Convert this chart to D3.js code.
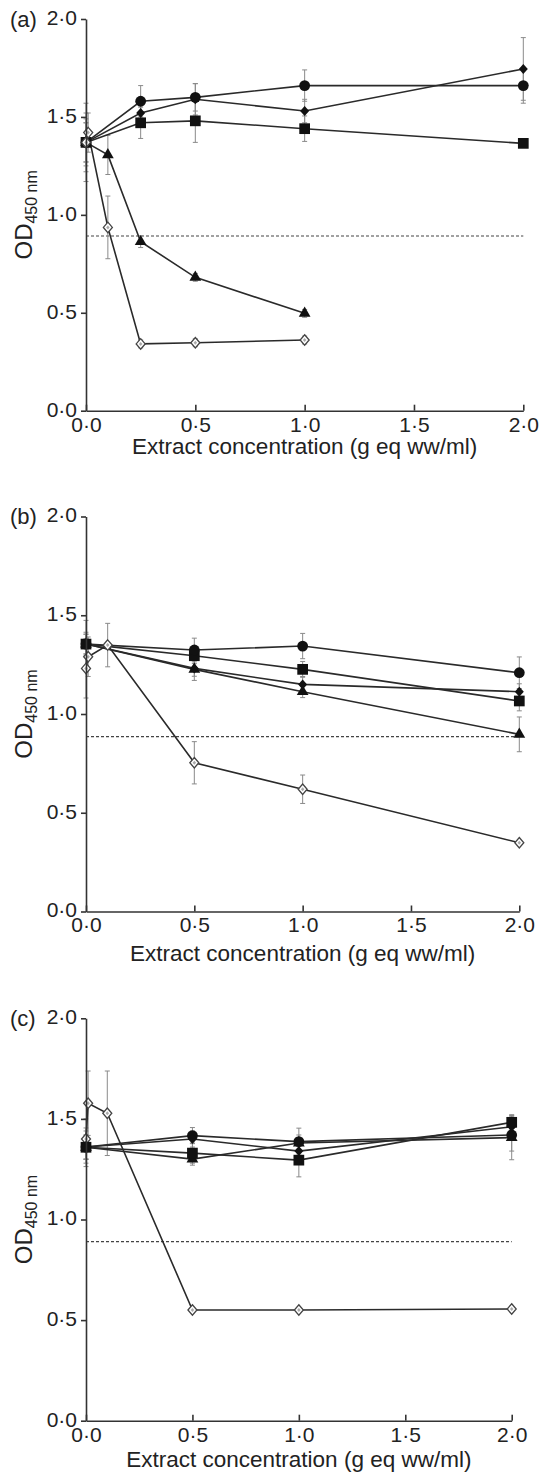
<!DOCTYPE html>
<html>
<head>
<meta charset="utf-8">
<script src="https://cdn.jsdelivr.net/npm/d3@7"></script>
<style>
  body { margin: 0; background: #fff; }
  text { font-family: 'Liberation Sans', Arial, sans-serif; fill: #222; }
</style>
</head>
<body>
<div id="chart"></div>
<script>
// shared ticks
let xTicks = [0, 0.5, 1, 1.5, 2]
let yTicks = [0, 0.5, 1, 1.5, 2]
let panelLabels = ['(a)', '(b)', '(c)']
let xTitle = 'Extract concentration (g eq ww/ml)'

// panel (a)
let xA = [0, 0.25, 0.5, 1, 2]
let circleA = [1.37, 1.58, 1.6, 1.66, 1.66]
let circleErrA = [0.2, 0.08, 0.07, 0.08, 0.09]
let diamondA = [1.37, 1.52, 1.59, 1.53, 1.745]
let diamondErrA = [0.12, 0.05, 0.08, 0.06, 0.16]
let squareA = [1.37, 1.47, 1.48, 1.44, 1.365]
let squareErrA = [0.1, 0.08, 0.11, 0.065, 0.02]
let xTriA = [0, 0.1, 0.25, 0.5, 1]
let triangleA = [1.37, 1.306, 0.863, 0.681, 0.497]
let triangleErrA = [0.1, 0.1, 0.03, 0.02, 0.02]
let xOpenA = [0, 0.01, 0.1, 0.25, 0.5, 1]
let openA = [1.37, 1.42, 0.936, 0.341, 0.347, 0.361]
let openErrA = [0.15, 0.1, 0.16, 0.02, 0.02, 0.02]
let cutoffA = 0.892

// panel (b)
let xB = [0, 0.5, 1, 2]
let circleB = [1.354, 1.324, 1.344, 1.209]
let circleErrB = [0.12, 0.06, 0.064, 0.08]
let diamondB = [1.354, 1.231, 1.15, 1.113]
let diamondErrB = [0.05, 0.04, 0.04, 0.04]
let squareB = [1.354, 1.295, 1.226, 1.066]
let squareErrB = [0.06, 0.04, 0.04, 0.05]
let triangleB = [1.354, 1.226, 1.113, 0.897]
let triangleErrB = [0.05, 0.056, 0.03, 0.088]
let xOpenB = [0, 0.01, 0.1, 0.5, 1, 2]
let openB = [1.231, 1.29, 1.349, 0.753, 0.619, 0.348]
let openErrB = [0.15, 0.1, 0.11, 0.107, 0.072, 0.01]
let cutoffB = 0.885

// panel (c)
let xC = [0, 0.5, 1, 2]
let circleC = [1.36, 1.417, 1.387, 1.42]
let circleErrC = [0.08, 0.04, 0.067, 0.08]
let diamondC = [1.36, 1.4, 1.34, 1.461]
let diamondErrC = [0.06, 0.04, 0.05, 0.06]
let squareC = [1.359, 1.33, 1.295, 1.483]
let squareErrC = [0.096, 0.05, 0.083, 0.03]
let triangleC = [1.359, 1.3, 1.38, 1.407]
let triangleErrC = [0.06, 0.03, 0.04, 0.11]
let xOpenC = [0, 0.01, 0.1, 0.5, 1, 2]
let openC = [1.4, 1.578, 1.528, 0.55, 0.55, 0.555]
let openErrC = [0.1, 0.16, 0.21, 0.01, 0.01, 0.01]
let cutoffC = 0.89

let zip = (xs, ys, es) => xs.map((x, i) => ({ x: x, y: ys[i], e: es[i] }))

let panels = [
  {
    label: panelLabels[0], cutoff: cutoffA,
    box: { left: 86, right: 523.3, bottom: 410.7, top: 19, title: 454 },
    series: [
      { shape: 'square', pts: zip(xA, squareA, squareErrA) },
      { shape: 'diamond', pts: zip(xA, diamondA, diamondErrA) },
      { shape: 'circle', pts: zip(xA, circleA, circleErrA) },
      { shape: 'triangle', pts: zip(xTriA, triangleA, triangleErrA) },
      { shape: 'open', pts: zip(xOpenA, openA, openErrA) }
    ]
  },
  {
    label: panelLabels[1], cutoff: cutoffB,
    box: { left: 86, right: 519.3, bottom: 911.5, top: 516.5, title: 961 },
    series: [
      { shape: 'open', pts: zip(xOpenB, openB, openErrB) },
      { shape: 'triangle', pts: zip(xB, triangleB, triangleErrB) },
      { shape: 'diamond', pts: zip(xB, diamondB, diamondErrB) },
      { shape: 'square', pts: zip(xB, squareB, squareErrB) },
      { shape: 'circle', pts: zip(xB, circleB, circleErrB) }
    ]
  },
  {
    label: panelLabels[2], cutoff: cutoffC,
    box: { left: 86, right: 511.7, bottom: 1420.7, top: 1018.3, title: 1467 },
    series: [
      { shape: 'open', pts: zip(xOpenC, openC, openErrC) },
      { shape: 'circle', pts: zip(xC, circleC, circleErrC) },
      { shape: 'diamond', pts: zip(xC, diamondC, diamondErrC) },
      { shape: 'triangle', pts: zip(xC, triangleC, triangleErrC) },
      { shape: 'square', pts: zip(xC, squareC, squareErrC) }
    ]
  }
]

let fmt = d => d.toFixed(1).replace('.', '\u00b7')

// diamond outline with its own width and height
let diamondPath = (w, h) =>
  'M0,' + (-h / 2) + 'L' + (w / 2) + ',0L0,' + (h / 2) + 'L' + (-w / 2) + ',0Z'

let width = 539
let height = 1477

let svg = d3
  .select('#chart')
  .append('svg')
  .attr('width', width)
  .attr('height', height)

panels.forEach(p => {
  let b = p.box
  let x = d3.scaleLinear().domain([0, 2]).range([b.left, b.right])
  let y = d3.scaleLinear().domain([0, 2]).range([b.bottom, b.top])

  let g = svg.append('g')

  // cut-off line
  g.append('line')
    .attr('x1', x(0))
    .attr('x2', x(2))
    .attr('y1', y(p.cutoff))
    .attr('y2', y(p.cutoff))
    .attr('stroke', '#444')
    .attr('stroke-width', 1.2)
    .attr('stroke-dasharray', '3,2')

  // error bars
  p.series.forEach(s => {
    let eb = g.append('g').selectAll('g')
      .data(s.pts.filter(d => d.e > 0.015))
      .enter()
      .append('g')
      .attr('stroke', '#8a8a8a')
      .attr('stroke-width', 1)
    eb.append('line')
      .attr('x1', d => x(d.x)).attr('x2', d => x(d.x))
      .attr('y1', d => y(d.y - d.e)).attr('y2', d => y(d.y + d.e))
    eb.append('line')
      .attr('x1', d => x(d.x) - 2.5).attr('x2', d => x(d.x) + 2.5)
      .attr('y1', d => y(d.y + d.e)).attr('y2', d => y(d.y + d.e))
    eb.append('line')
      .attr('x1', d => x(d.x) - 2.5).attr('x2', d => x(d.x) + 2.5)
      .attr('y1', d => y(d.y - d.e)).attr('y2', d => y(d.y - d.e))
  })

  // lines
  let line = d3.line().x(d => x(d.x)).y(d => y(d.y))
  p.series.forEach(s => {
    g.append('path')
      .datum(s.pts)
      .attr('d', line)
      .attr('fill', 'none')
      .attr('stroke', '#2a2a2a')
      .attr('stroke-width', 1.6)
  })

  // markers
  p.series.forEach(s => {
    let m = g.append('g').selectAll('g')
      .data(s.pts)
      .enter()
      .append('g')
      .attr('transform', d => 'translate(' + x(d.x) + ',' + y(d.y) + ')')
    if (s.shape === 'circle') {
      m.append('circle').attr('r', 5.4).attr('fill', '#111')
    } else if (s.shape === 'square') {
      m.append('path').attr('d', d3.symbol(d3.symbolSquare, 115)).attr('fill', '#111')
    } else if (s.shape === 'triangle') {
      m.append('path').attr('d', d3.symbol(d3.symbolTriangle, 60)).attr('fill', '#111')
    } else if (s.shape === 'diamond') {
      m.append('path').attr('d', diamondPath(9, 10)).attr('fill', '#111')
    } else {
      m.append('path')
        .attr('d', diamondPath(9, 10.5))
        .attr('fill', '#fff')
        .attr('stroke', '#444')
        .attr('stroke-width', 1.3)
      m.append('path').attr('d', diamondPath(3.5, 4)).attr('fill', '#aaa')
    }
  })

  // axes
  let yAxis = g.append('g')
    .attr('transform', 'translate(' + b.left + ',0)')
    .call(d3.axisLeft(y).tickValues(yTicks).tickFormat(fmt).tickSize(5).tickSizeOuter(0).tickPadding(4))
  let xAxis = g.append('g')
    .attr('transform', 'translate(0,' + b.bottom + ')')
    .call(d3.axisBottom(x).tickValues(xTicks).tickFormat(fmt).tickSize(-6).tickSizeOuter(0).tickPadding(6))
  ;[yAxis, xAxis].forEach(a => {
    a.selectAll('path, line').attr('stroke', '#333').attr('stroke-width', 1.6)
    a.selectAll('text')
      .attr('font-size', 21)
      .attr('font-family', "'Liberation Sans', Arial, sans-serif")
      .attr('fill', '#222')
  })
  yAxis.selectAll('text').attr('dy', '0.26em')

  // panel letter
  g.append('text')
    .attr('x', 10)
    .attr('y', b.top)
    .attr('dy', '0.36em')
    .attr('font-size', 22)
    .text(p.label)

  // y title
  let yt = g.append('text')
    .attr('transform', 'translate(32,' + ((b.top + b.bottom) / 2) + ') rotate(-90)')
    .attr('text-anchor', 'middle')
    .attr('font-size', 24)
  yt.append('tspan').text('OD')
  yt.append('tspan').attr('font-size', 16).attr('dy', 5).text('450 nm')

  // x title
  g.append('text')
    .attr('x', (b.left + b.right) / 2)
    .attr('y', b.title)
    .attr('text-anchor', 'middle')
    .attr('font-size', 22.5)
    .text(xTitle)
})
</script>
</body>
</html>
